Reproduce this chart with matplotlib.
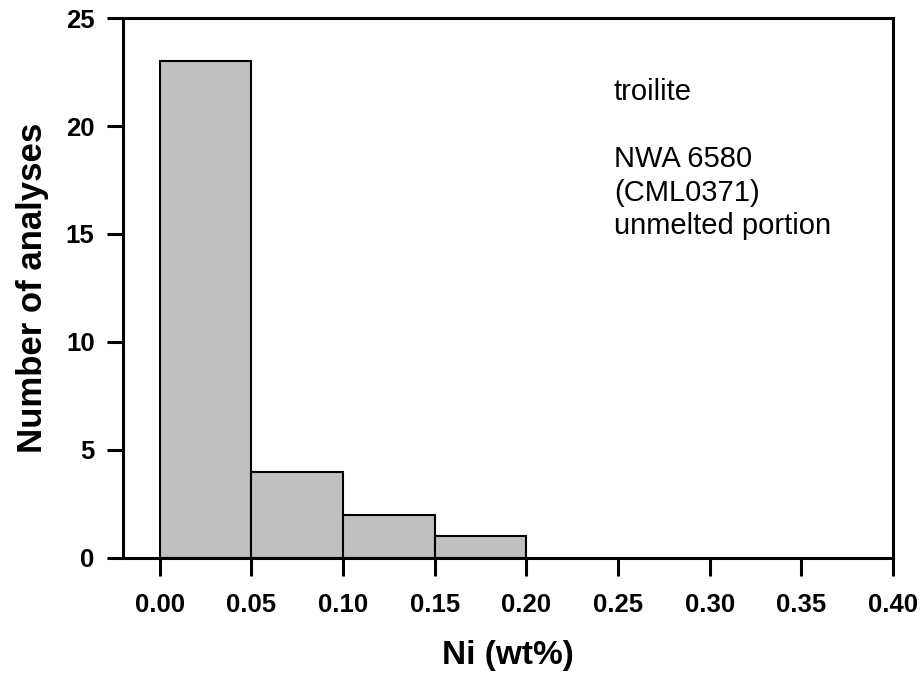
import matplotlib.pyplot as plt

plt.rcParams['font.family'] = ['Liberation Sans', 'DejaVu Sans']

bin_left = [0.00, 0.05, 0.10, 0.15]
bin_width = 0.05
counts = [23, 4, 2, 1]
xticks = [0.00, 0.05, 0.10, 0.15, 0.20, 0.25, 0.30, 0.35, 0.40]
yticks = [0, 5, 10, 15, 20, 25]

fig = plt.figure(figsize=(9.22, 6.77), dpi=100)
ax = fig.add_axes([0.1334, 0.1758, 0.9686 - 0.1334, 0.9734 - 0.1758])

ax.bar(bin_left, counts, width=bin_width, align='edge', color='#c0c0c0',
       edgecolor='black', linewidth=1.5, zorder=2)

ax.set_xlim(-0.02, 0.40)
ax.set_ylim(0, 25)
ax.set_xticks(xticks)
ax.set_xticklabels([f'{t:.2f}' for t in xticks])
ax.set_yticks(yticks)

for s in ax.spines.values():
    s.set_linewidth(2.2)
    s.set_zorder(3)

ax.tick_params(axis='x', direction='out', length=13, width=2.2, pad=12,
               labelsize=18.5)
ax.tick_params(axis='y', direction='out', length=11.5, width=2.2, pad=9,
               labelsize=18.5)
for lab in ax.get_xticklabels() + ax.get_yticklabels():
    lab.set_fontweight('bold')

ax.set_xlabel('Ni (wt%)', fontsize=24, fontweight='bold', labelpad=17)
ax.set_ylabel('Number of analyses', fontsize=25, fontweight='bold', labelpad=12)

ax.text(0.25 - 0.0022, 22.2, 'troilite\n\nNWA 6580\n(CML0371)\nunmelted portion',
        fontsize=21, va='top', ha='left', linespacing=1.25)

fig.savefig('out.png', dpi=100)
